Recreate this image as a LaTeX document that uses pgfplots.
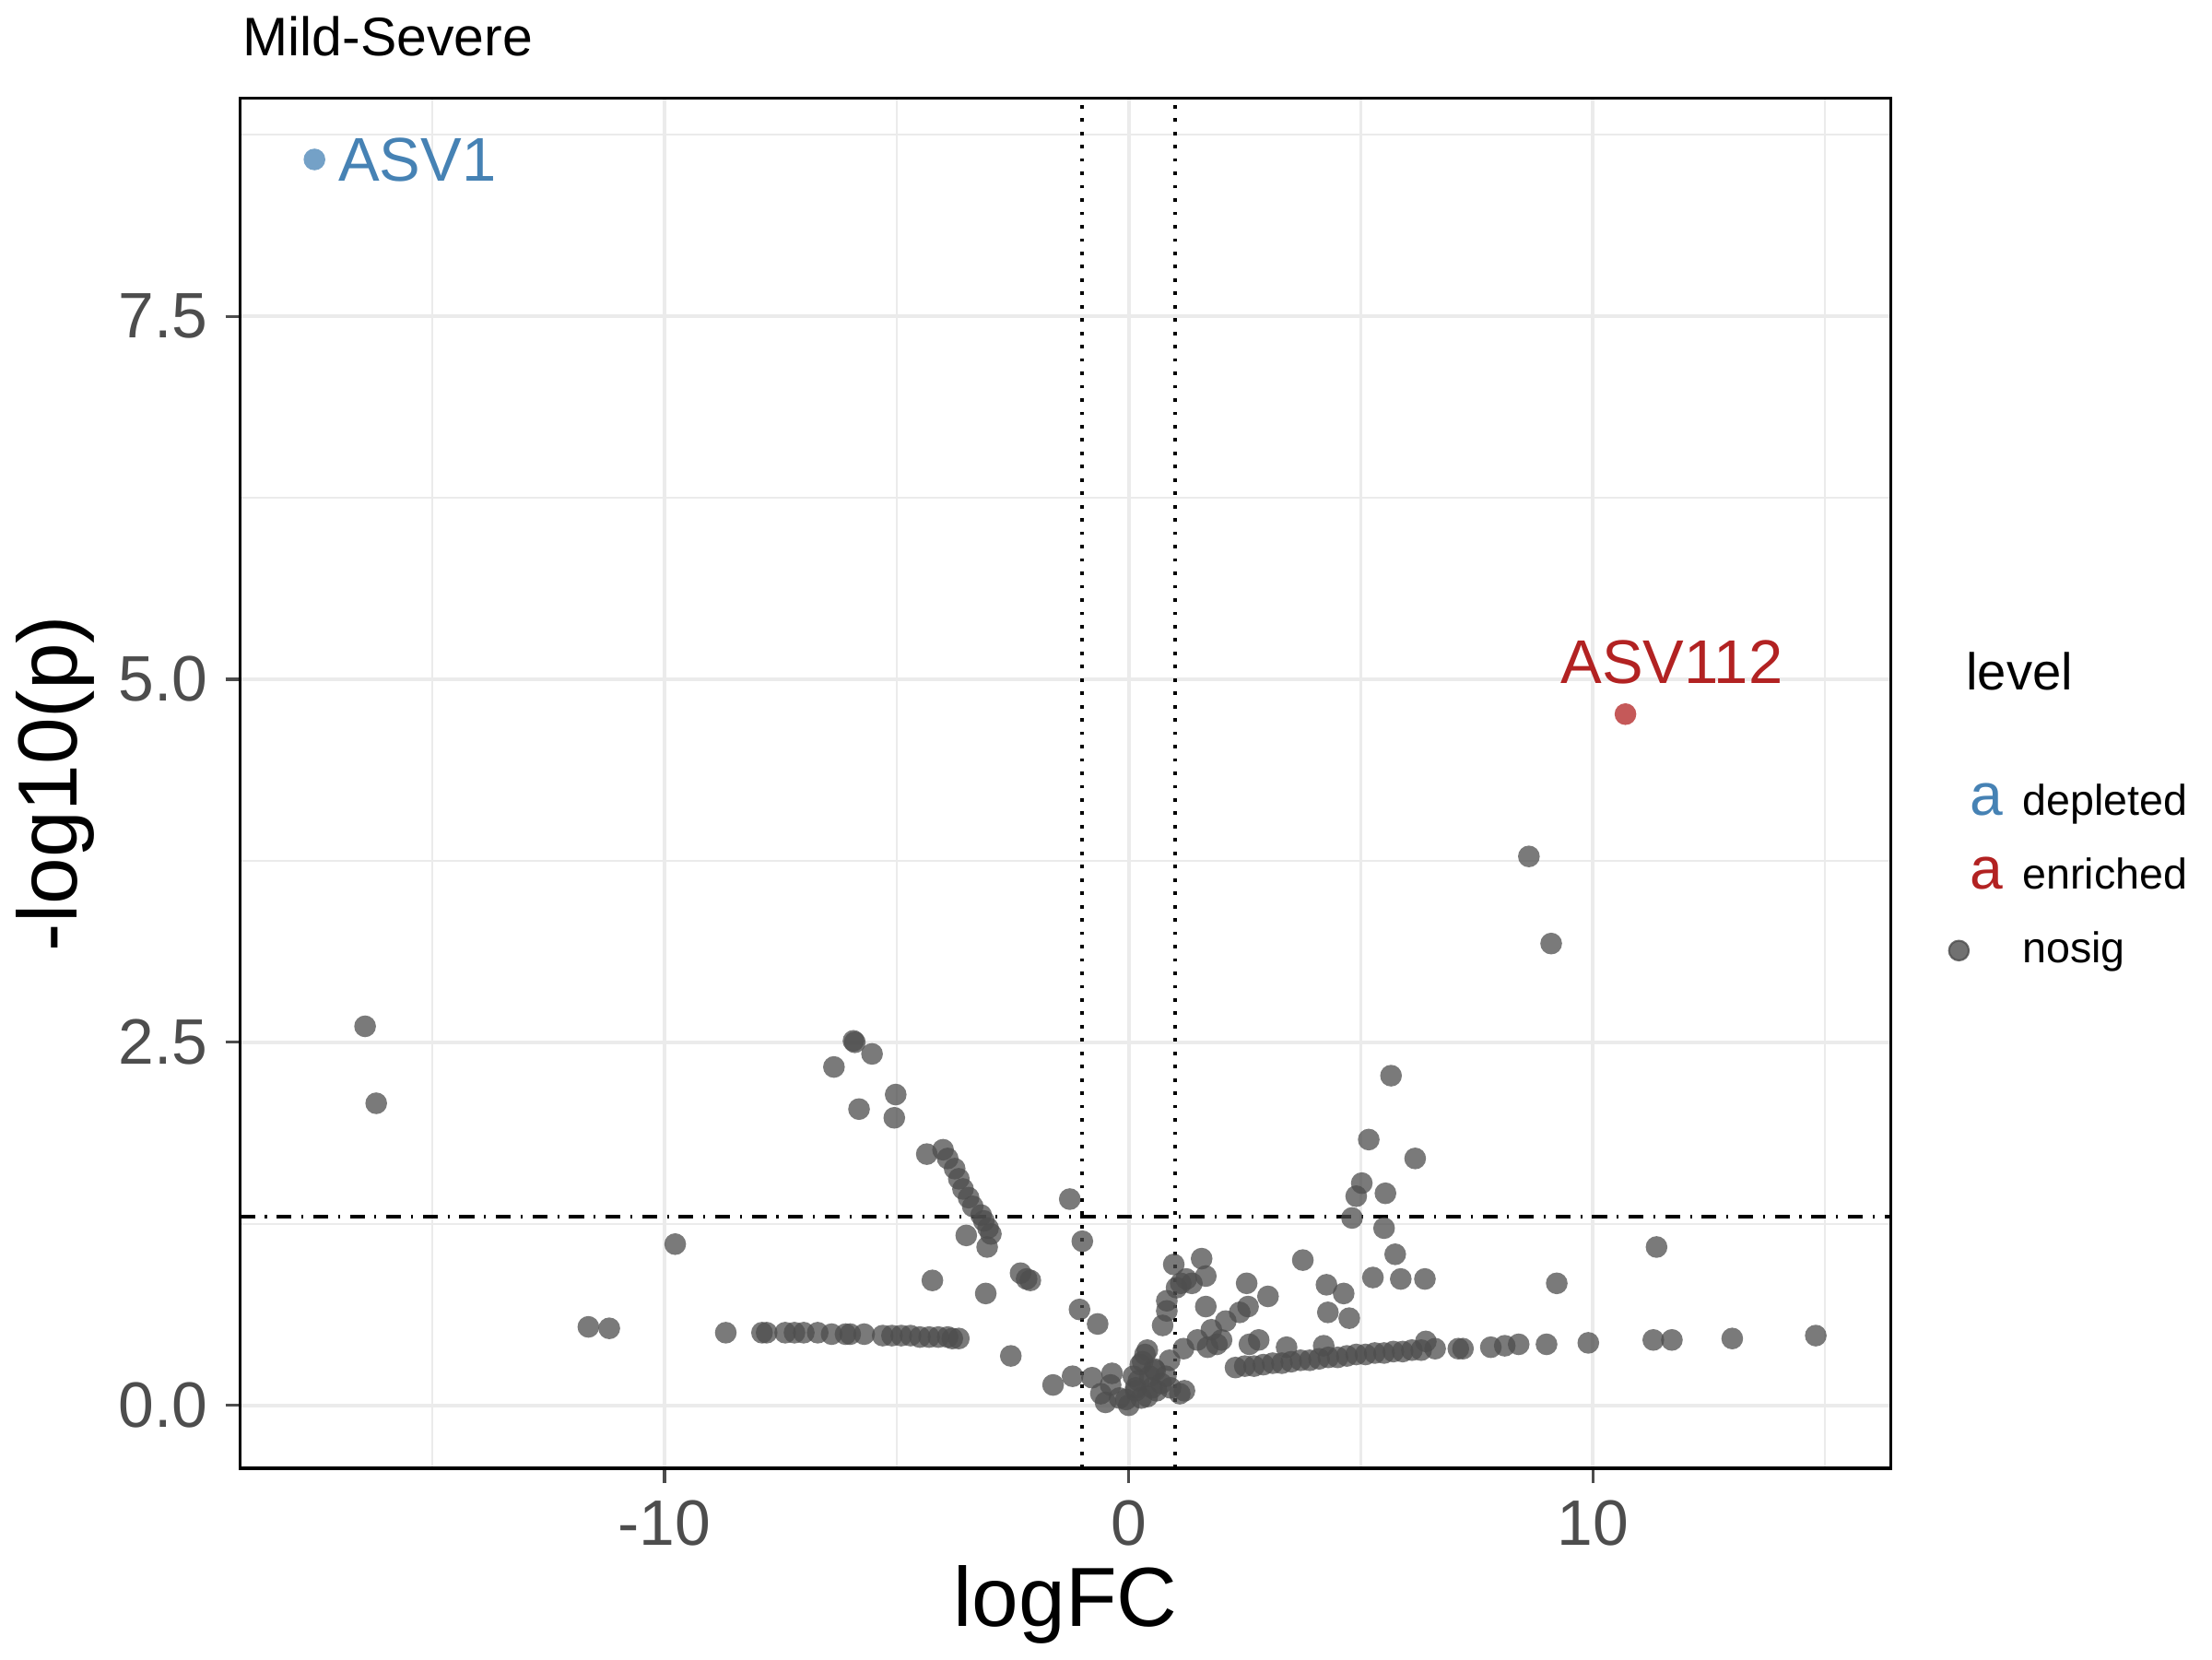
\documentclass[border=0pt]{standalone}
\usepackage{pgfplots}
\pgfplotsset{compat=1.18}
\usepackage{fontspec}
\setmainfont{Liberation Sans}
\definecolor{gridc}{HTML}{EBEBEB}
\definecolor{tickc}{HTML}{4D4D4D}
\definecolor{ptc}{HTML}{4D4D4D}
\definecolor{dep}{HTML}{4682B4}
\definecolor{enr}{HTML}{B22222}
\begin{document}
\begin{tikzpicture}
\begin{axis}[
  scale only axis, width=11.75cm, height=9.75cm,
  xmin=-19.14, xmax=16.42, ymin=-0.434, ymax=9.0,
  xtick={-10,0,10}, ytick={0,2.5,5,7.5},
  minor xtick={-15,-5,5,15}, minor ytick={1.25,3.75,6.25,8.75},
  xtick pos=left, ytick pos=left,
  yticklabel style={/pgf/number format/.cd,fixed,fixed zerofill,precision=1},
  /pgf/number format/assume math mode=true,
  ticklabel style={font=\fontsize{13}{14}\selectfont, text=tickc},
  grid=both, major grid style={gridc, line width=0.8pt}, minor grid style={gridc, line width=0.4pt},
  tick align=outside, major tick length=3pt, minor tick length=0pt,
  tick style={tickc, line width=0.6pt},
  axis line style={black, line width=0.6pt},
  xlabel={logFC}, ylabel={-log10(p)},
  label style={font=\fontsize{17}{18}\selectfont},
  xlabel style={yshift=3pt}, ylabel style={yshift=-2pt},
  title={Mild-Severe}, title style={font=\fontsize{11}{12}\selectfont, anchor=south west, at={(0,1)}, xshift=-3pt, yshift=-1pt},
  legend style={draw=none, fill=none, at={(1.025,0.515)}, anchor=north west, font=\fontsize{8.7}{10}\selectfont, row sep=3pt},
  legend cell align=left,
  clip=false,
]
\addplot[dotted, black, line width=0.7pt, forget plot] coordinates {(-1,-0.434) (-1,9.0)};
\addplot[dotted, black, line width=0.7pt, forget plot] coordinates {(1,-0.434) (1,9.0)};
\addplot[dash dot, black, line width=0.7pt, forget plot] coordinates {(-19.14,1.301) (16.42,1.301)};
\addlegendimage{legend image code/.code={\node[text=dep, font=\fontsize{12}{12}\selectfont] at (0.3cm,0) {a};}}
\addlegendentry{depleted}
\addlegendimage{legend image code/.code={\node[text=enr, font=\fontsize{12}{12}\selectfont] at (0.3cm,0) {a};}}
\addlegendentry{enriched}
\addlegendimage{legend image code/.code={\fill[ptc, opacity=0.8] (0.3cm,0) circle (2pt);}}
\addlegendentry{nosig}
\addplot[only marks, color=ptc, mark=*, mark size=2.2pt, mark options={draw opacity=0, fill=ptc, fill opacity=0.75}, forget plot] coordinates {
(-16.45,2.61) (-16.21,2.08) (-9.77,1.11) (-11.64,0.54) (-11.19,0.53) (-8.68,0.50)
(-7.9,0.50) (-7.8,0.50) (-7.4,0.50) (-7.2,0.50) (-7.0,0.50) (-6.7,0.50) (-6.4,0.49) (-6.1,0.49) (-6.0,0.49) (-5.7,0.49)
(-5.3,0.48) (-5.1,0.48) (-4.9,0.48) (-4.7,0.48) (-4.5,0.47) (-4.3,0.47) (-4.1,0.47) (-3.9,0.47) (-3.8,0.46) (-3.66,0.46)
(-6.35,2.33) (-5.93,2.51) (-5.90,2.50) (-5.53,2.42) (-5.81,2.04) (-5.02,2.14) (-5.05,1.98)
(-4.35,1.73) (-4.0,1.76) (-3.9,1.70) (-3.75,1.63) (-3.66,1.56) (-3.57,1.49) (-3.45,1.43) (-3.36,1.37) (-3.18,1.31) (-3.12,1.27) (-3.03,1.22) (-2.97,1.18) (-3.05,1.09)
(-3.5,1.17) (-4.23,0.86) (-3.08,0.77) (-2.33,0.91) (-2.2,0.87) (-2.12,0.86)
(-2.54,0.34) (-1.63,0.14) (-1.27,1.42) (-1.0,1.13) (-1.06,0.66) (-0.67,0.56)
(-1.21,0.20) (-0.79,0.19) (-0.36,0.22) (-0.39,0.14) (-0.06,0.04) (0.0,0.0) (0.27,0.05) (0.21,0.17)
(-0.6,0.08) (-0.5,0.02) (-0.2,0.05) (0.3,0.3) (0.35,0.35) (0.4,0.38) (0.45,0.2) (0.5,0.12) (0.55,0.25) (0.6,0.1) (0.7,0.15) (0.8,0.2) (0.9,0.12) (1.1,0.08) (1.2,0.1) (0.25,0.28) (0.15,0.1) (0.1,0.2) (0.4,0.06)
(0.15,0.12) (0.57,0.24) (0.88,0.31) (1.18,0.39) (1.48,0.45) (1.78,0.52) (2.09,0.58) (2.39,0.64) (2.57,0.68) (3.0,0.75)
(0.73,0.55) (0.82,0.65) (0.82,0.72) (1.03,0.81) (1.12,0.84) (1.24,0.87) (1.36,0.84) (1.57,1.01) (1.66,0.89) (1.66,0.68) (0.97,0.97)
(1.7,0.4) (1.9,0.42) (2.0,0.45)
(2.54,0.84) (3.75,1.0) (4.26,0.83) (4.63,0.77) (4.29,0.64) (4.75,0.60)
(5.17,1.83) (5.65,2.27) (6.17,1.70) (5.02,1.53) (4.9,1.44) (5.53,1.46) (4.81,1.29) (5.5,1.22) (5.74,1.04) (5.86,0.87) (5.26,0.88) (6.38,0.87)
(2.3,0.26) (2.5,0.27) (2.7,0.27) (2.9,0.28) (3.1,0.29) (3.3,0.29) (3.5,0.30) (3.7,0.31) (3.9,0.31) (4.1,0.32) (4.3,0.33) (4.5,0.33) (4.7,0.34) (4.9,0.35) (5.1,0.35) (5.3,0.36) (5.5,0.36) (5.7,0.37) (5.9,0.37) (6.1,0.38) (6.3,0.38) (6.6,0.39)
(2.6,0.42) (2.8,0.45) (3.4,0.40) (4.2,0.41)
(7.1,0.39) (7.2,0.39) (7.8,0.40) (8.1,0.41) (8.4,0.42) (9.0,0.42) (9.9,0.43) (11.3,0.45) (11.7,0.45) (13.0,0.46) (14.8,0.48)
(8.62,3.78) (9.1,3.18) (9.22,0.84) (11.37,1.09) (6.4,0.44)
};
\addplot[only marks, color=dep, mark=*, mark size=2.2pt, mark options={draw opacity=0, fill=dep, fill opacity=0.75}, forget plot] coordinates {(-17.54,8.58)};
\addplot[only marks, color=enr, mark=*, mark size=2.2pt, mark options={draw opacity=0, fill=enr, fill opacity=0.75}, forget plot] coordinates {(10.70,4.76)};
\node[text=dep, anchor=west, font=\fontsize{12.5}{13}\selectfont] at (axis cs:-17.4,8.58) {ASV1};
\node[text=enr, anchor=south, font=\fontsize{12.5}{13}\selectfont] at (axis cs:11.7,4.85) {ASV112};
\node[anchor=south west, font=\fontsize{10.5}{12}\selectfont] at (rel axis cs:1.035,0.555) {level};
\end{axis}
\end{tikzpicture}
\end{document}
